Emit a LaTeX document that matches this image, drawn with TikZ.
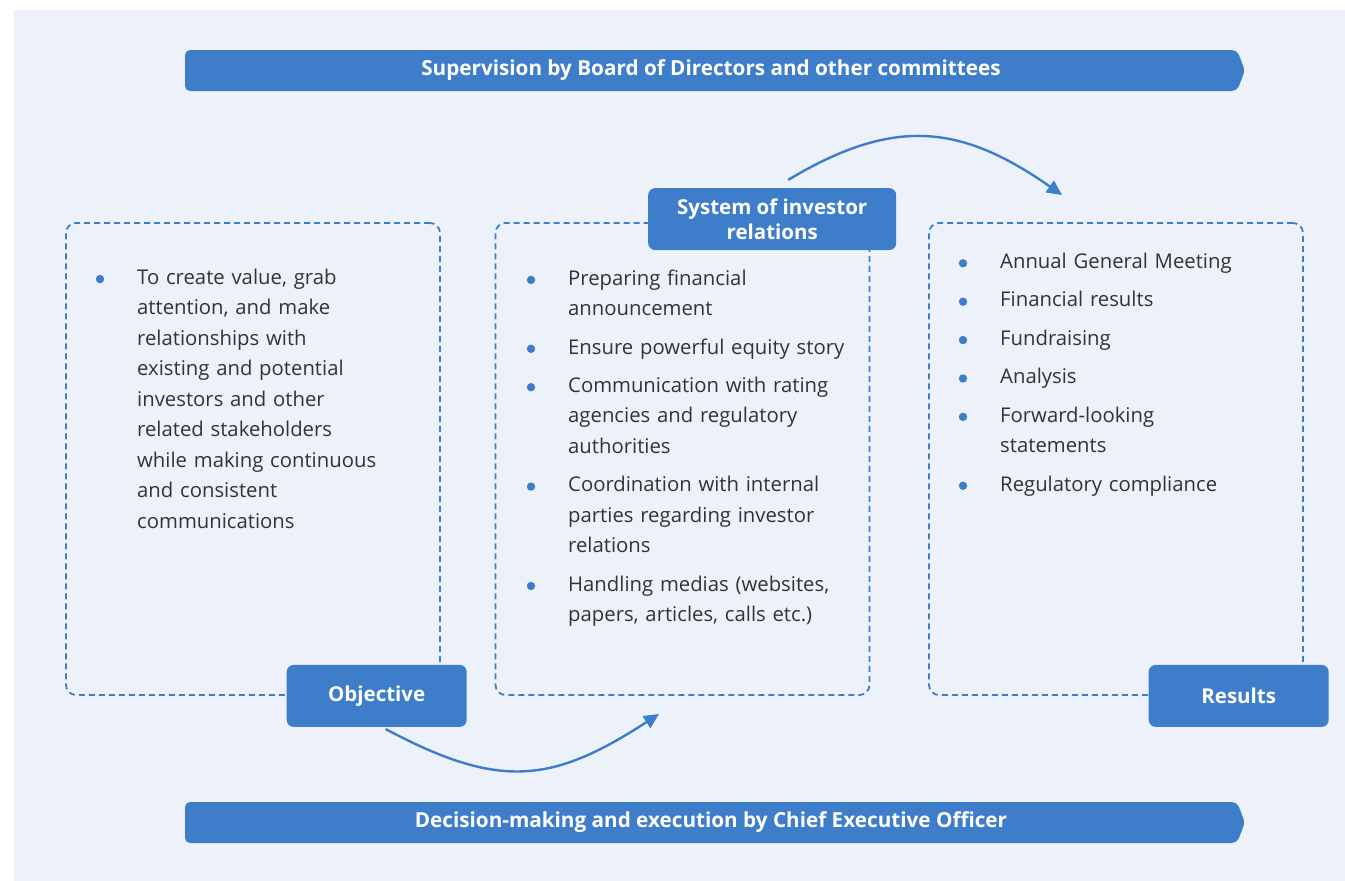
\documentclass[tikz,border=0pt]{standalone}
\usepackage{fontspec}
\setmainfont{Open Sans}
\usetikzlibrary{arrows.meta, positioning, shapes.symbols}
\definecolor{irblue}{RGB}{61,125,202}
\definecolor{pagefill}{RGB}{237,242,250}
\definecolor{bodytext}{RGB}{51,51,51}
\tikzset{
  banner/.style={signal, signal to=east, signal pointer angle=137, fill=irblue, rounded corners=5pt, minimum width=1060pt, minimum height=41pt, text=white, font=\fontsize{20.7}{24}\selectfont\bfseries, inner sep=0pt},
  frame/.style={draw=irblue, dash pattern=on 6pt off 4pt, line width=1.8pt, rounded corners=10pt, minimum width=374pt, minimum height=472pt},
  tagbox/.style={fill=irblue, rounded corners=7pt, minimum height=62pt, text=white, font=\fontsize{20.5}{25}\selectfont\bfseries, align=center, inner sep=0pt},
  item/.style={font=\fontsize{20.3}{30.5}\selectfont, text=bodytext, text width=300pt, align=left, inner sep=0pt, anchor=north west, execute at begin node=\strut, execute at end node=\strut},
  dot/.style={fill=irblue},
  flow/.style={-{Triangle[length=15pt, width=14pt]}, draw=irblue, line width=2.4pt},
}
\begin{document}
\begin{tikzpicture}[x=1pt, y=-1pt]

  \useasboundingbox (0,0) rectangle (1345,881);
  \fill[pagefill] (14,10) rectangle (1345,881);

  % --- Banners ---
  \node[banner] (board) at (711,70.5) {Supervision by Board of Directors and other committees};
  \node[banner] (ceo) at (711,822.5) {Decision-making and execution by Chief Executive Officer};

  % --- Frames ---
  \node[frame] (objframe) at (253,459) {};
  \node[frame] (sysframe) at (682.5,459) {};
  \node[frame] (resframe) at (1116,459) {};

  % --- Tags ---
  \node[tagbox, minimum width=180pt, anchor=east] (objective) at ([xshift=26pt]objframe.south east) {Objective};
  \node[tagbox, minimum width=248pt, anchor=east] (irsys) at ([xshift=26pt, yshift=3pt]sysframe.north east) {System of investor\\relations};
  \node[tagbox, minimum width=180pt, anchor=east] (results) at ([xshift=25pt]resframe.south east) {Results};

  % --- Objective text ---
  \node[item] (o1) at (137,262.8) {To create value, grab\\attention, and make\\relationships with\\existing and potential\\investors and other\\related stakeholders\\while making continuous\\and consistent\\communications};

  % --- System text ---
  \node[item] (s1) at (568,263.6) {Preparing financial\\announcement};
  \node[item, below=7.5pt of s1.south west, anchor=north west] (s2) {Ensure powerful equity story};
  \node[item, below=7.5pt of s2.south west, anchor=north west] (s3) {Communication with rating\\agencies and regulatory\\authorities};
  \node[item, below=7.5pt of s3.south west, anchor=north west] (s4) {Coordination with internal\\parties regarding investor\\relations};
  \node[item, below=7.5pt of s4.south west, anchor=north west] (s5) {Handling medias (websites,\\papers, articles, calls etc.)};

  % --- Results text ---
  \node[item] (r1) at (1000,247) {Annual General Meeting};
  \node[item, below=7.5pt of r1.south west, anchor=north west] (r2) {Financial results};
  \node[item, below=7.5pt of r2.south west, anchor=north west] (r3) {Fundraising};
  \node[item, below=7.5pt of r3.south west, anchor=north west] (r4) {Analysis};
  \node[item, below=7.5pt of r4.south west, anchor=north west] (r5) {Forward-looking\\statements};
  \node[item, below=7.5pt of r5.south west, anchor=north west] (r6) {Regulatory compliance};

  % --- Bullets ---
  \foreach \n in {o1, s1, s2, s3, s4, s5, r1, r2, r3, r4, r5, r6}
    \fill[dot] ([xshift=-37pt, yshift=-16.3pt]\n.north west) circle (4.2pt);

  % --- Arrows ---
  \coordinate (sysin) at (659,714);
  \coordinate (resin) at (1062,195);
  \draw[flow] ([xshift=9pt, yshift=-2pt]objective.south) to[out=-28, in=213, looseness=1.2] (sysin);
  \draw[flow] ([xshift=16pt, yshift=8pt]irsys.north) to[out=31, in=145, looseness=1.15] (resin);

\end{tikzpicture}
\end{document}
